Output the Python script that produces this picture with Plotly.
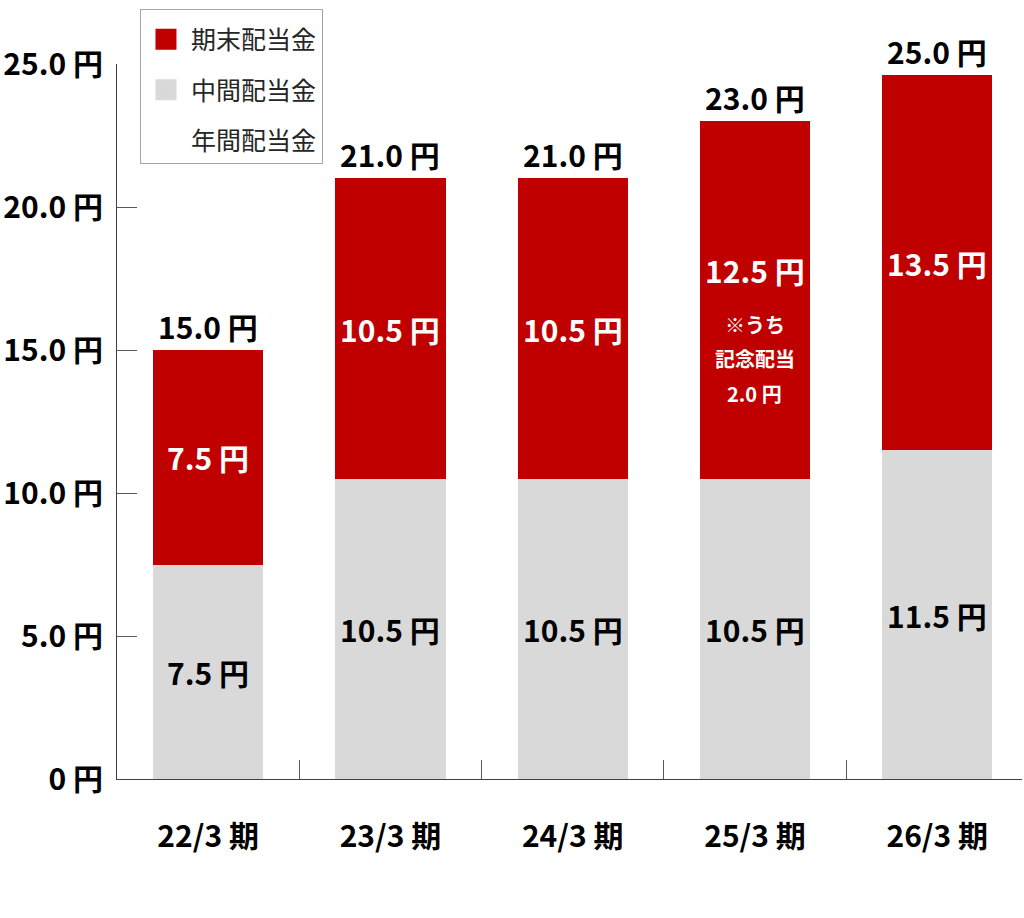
import plotly.graph_objects as go

# ---- data ----
categories = ["22/3 期", "23/3 期", "24/3 期", "25/3 期", "26/3 期"]
interim = [7.5, 10.5, 10.5, 10.5, 11.5]          # 中間配当金
final = [7.5, 10.5, 10.5, 12.5, 13.1]            # 期末配当金 (bar heights as drawn)
interim_labels = ["7.5 円", "10.5 円", "10.5 円", "10.5 円", "11.5 円"]
final_labels = ["7.5 円", "10.5 円", "10.5 円", "12.5 円", "13.5 円"]
total_labels = ["15.0 円", "21.0 円", "21.0 円", "23.0 円", "25.0 円"]
note_category = "25/3 期"
note_lines = ["※うち", "記念配当", "2.0 円"]
y_tick_values = [0, 5, 10, 15, 20, 25]
y_tick_labels = ["0 円", "5.0 円", "10.0 円", "15.0 円", "20.0 円", "25.0 円"]
legend_names = ["期末配当金", "中間配当金", "年間配当金"]

RED = "#C00000"
GRAY = "#D9D9D9"
FONT = "Noto Sans CJK JP"

fig = go.Figure()
fig.add_trace(go.Bar(x=categories, y=interim, marker=dict(color=GRAY, line=dict(width=0)),
                     showlegend=False, name=legend_names[1]))
fig.add_trace(go.Bar(x=categories, y=final, marker=dict(color=RED, line=dict(width=0)),
                     showlegend=False, name=legend_names[0]))

# legend-only entries
legend_colors = [RED, GRAY, "rgba(0,0,0,0)"]
for name, col in zip(legend_names, legend_colors):
    fig.add_trace(go.Scatter(x=[None], y=[None], mode="markers", name=name,
                             legendgroup=name,
                             marker=dict(symbol="square", size=16, color=col,
                                         line=dict(width=5, color=col))))

annotations = []
for i, cat in enumerate(categories):
    total = interim[i] + final[i]
    annotations.append(dict(x=cat, y=total, text=total_labels[i], showarrow=False,
                            yanchor="middle", yshift=24,
                            font=dict(family=FONT, size=30, color="#000000", weight="bold")))
    annotations.append(dict(x=cat, y=interim[i] / 2, text=interim_labels[i], showarrow=False,
                            yanchor="middle",
                            font=dict(family=FONT, size=30, color="#000000", weight="bold")))
    mid = interim[i] + final[i] / 2
    shift = 30 if cat == note_category else 0
    annotations.append(dict(x=cat, y=mid, text=final_labels[i], showarrow=False,
                            yanchor="middle", yshift=shift,
                            font=dict(family=FONT, size=30, color="#FFFFFF", weight="bold")))
    if cat == note_category:
        for line, ys in zip(note_lines, [-25, -59, -94]):
            annotations.append(dict(x=cat, y=mid, text=line, showarrow=False,
                                    yanchor="middle", yshift=ys,
                                    font=dict(family=FONT, size=20, color="#FFFFFF", weight="bold")))

fig.update_layout(
    width=1024, height=918,
    margin=dict(l=117, r=2, t=64, b=139, autoexpand=False),
    paper_bgcolor="white", plot_bgcolor="white",
    barmode="stack", bargap=0.395,
    font=dict(family=FONT, color="#000000"),
    annotations=annotations,
    legend=dict(x=0.0254, y=1.0769, xanchor="left", yanchor="top",
                bgcolor="white", bordercolor="#A6A6A6", borderwidth=1,
                font=dict(family=FONT, size=25, color="#262626"),
                title=dict(text=" ", font=dict(size=5)),
                tracegroupgap=15, itemwidth=40, traceorder="grouped",
                entrywidth=160, entrywidthmode="pixels"),
    xaxis=dict(type="category", range=[-0.5, 4.465], showgrid=False, automargin=False,
               showline=True, linecolor="#404040", linewidth=1,
               ticks="inside", tickson="boundaries", ticklen=19, tickcolor="#595959",
               tickfont=dict(family=FONT, size=30, color="#000000", weight="bold"),
               ticklabelstandoff=31),
    yaxis=dict(range=[0, 25], showgrid=False, zeroline=False, automargin=False,
               showline=True, linecolor="#404040", linewidth=1,
               tickmode="array", tickvals=y_tick_values, ticktext=y_tick_labels,
               ticks="inside", ticklen=20, tickcolor="#595959",
               tickfont=dict(family=FONT, size=30, color="#000000", weight="bold"),
               ticklabelstandoff=7),
)

fig.write_html("out.html", config={"displayModeBar": False},
               post_script="document.body.style.margin='0';")
